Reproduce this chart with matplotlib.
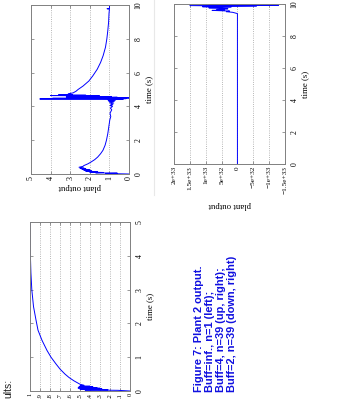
import matplotlib
matplotlib.use("Agg")
import matplotlib.pyplot as plt
from matplotlib.lines import Line2D

plt.rcParams['font.family'] = 'Liberation Serif'

# Buff=4, n=39 (up, right)
a_time = [0.00, 0.03, 0.05, 0.07, 0.09, 0.11, 0.13, 0.15, 0.18, 0.21, 0.24, 0.27,
          0.30, 0.33, 0.36, 0.40, 0.45, 0.50, 0.60, 0.70, 0.85, 1.00, 1.20, 1.40,
          1.70, 2.00, 2.40, 2.80, 3.20, 3.40, 3.60, 3.80, 3.90, 4.00, 4.05, 4.10,
          4.15, 4.20, 4.25, 4.30, 4.33, 4.36, 4.40, 4.42, 4.44, 4.46, 4.48, 4.50,
          4.52, 4.54, 4.56, 4.58, 4.60, 4.62, 4.64, 4.66, 4.68, 4.70, 4.75, 4.80,
          4.90, 5.00, 5.20, 5.50, 5.80, 6.20, 6.60, 7.00, 7.50, 8.00, 8.50, 9.00,
          9.50, 9.75, 9.78, 9.80, 10.00]
a_output = [0.00, 1.20, 0.60, 1.70, 1.30, 2.00, 1.60, 2.20, 1.90, 2.30, 2.00, 2.40,
            2.20, 2.50, 2.30, 2.55, 2.35, 2.30, 2.10, 1.95, 1.75, 1.60, 1.45, 1.33,
            1.22, 1.15, 1.08, 1.03, 0.98, 0.93, 0.97, 0.88, 0.95, 0.84, 0.97, 0.82,
            0.95, 0.78, 1.00, 0.75, 1.05, 0.70, 1.10, 0.30, 4.55, 0.15, 3.90, -0.10,
            1.20, 0.60, 3.20, 0.90, 2.60, 1.50, 4.00, 2.20, 3.60, 2.90, 3.10, 2.85,
            2.70, 2.60, 2.35, 2.05, 1.85, 1.62, 1.45, 1.32, 1.20, 1.13, 1.08, 1.04,
            1.02, 1.00, 1.12, 1.00, 0.99]

# Buff=2, n=39 (down, right)
b_time = [0.0, 9.40, 9.48, 9.52, 9.56, 9.60, 9.63, 9.66, 9.70, 9.73, 9.76, 9.80,
          9.83, 9.86, 9.90, 9.93, 9.96, 9.98, 10.0]
b_output = [0, 0, 0.15e33, 0.35e33, 0.25e33, 0.8e33, 0.4e33, 0.65e33, 0.3e33,
            0.55e33, 0.9e33, 0.2e33, 1.1e33, -0.6e33, 1.5e33, -1.3e33, 0.9e33,
            -1.0e33, 0.6e33]
b_ticks = [2e33, 1.5e33, 1e33, 5e32, 0, -5e32, -1e33, -1.5e33]
b_ticklabels = ["2e+33", "1.5e+33", "1e+33", "5e+32", "0",
                "\u22125e+32", "\u22121e+33", "\u22121.5e+33"]

# Buff=inf., n=1 (left)
c_time = [0.00, 0.02, 0.03, 0.04, 0.05, 0.06, 0.07, 0.08, 0.09, 0.10, 0.11, 0.12,
          0.13, 0.14, 0.15, 0.17, 0.20, 0.25, 0.30, 0.40, 0.50, 0.65, 0.80, 1.00,
          1.20, 1.50, 1.80, 2.10, 2.50, 3.00, 3.50, 4.00, 4.50, 5.00]
c_output = [0.00, 0.12, 0.45, 0.22, 0.50, 0.28, 0.48, 0.30, 0.52, 0.33, 0.49, 0.37,
            0.51, 0.40, 0.50, 0.46, 0.50, 0.53, 0.56, 0.61, 0.65, 0.70, 0.74, 0.79,
            0.83, 0.88, 0.92, 0.94, 0.965, 0.982, 0.991, 0.996, 0.998, 1.00]
c_ticks = [0, 0.1, 0.2, 0.3, 0.4, 0.5, 0.6, 0.7, 0.8, 0.9, 1]
c_ticklabels = ["0", ".1", ".2", ".3", ".4", ".5", ".6", ".7", ".8", ".9", "1"]

caption = ("Figure 7: Plant 2 output.\n"
           "Buff=inf., n=1 (left);\n"
           "Buff=4, n=39 (up, right);\n"
           "Buff=2, n=39 (down, right)")

W, H = 357, 400


def px_axes(fig, x0, y0, x1, y1):
    # pixel box (image coords, y down) -> axes
    return fig.add_axes([x0 / W, 1 - y1 / H, (x1 - x0) / W, (y1 - y0) / H])


def rotated_panel(ax, t, v, tmax, tsteps, vlim, vticks, vlabels=None,
                  xlabel=True, xlabelpad=2, vsize=5.4):
    # page is turned 90 deg: time runs upward, output runs leftward
    ax.plot(v, t, color="#0000ff", lw=0.7)
    ax.set_xlim(vlim)
    ax.set_ylim(0, tmax)
    ax.set_yticks(tsteps)
    ax.set_xticks(vticks)
    if vlabels is not None:
        ax.set_xticklabels(vlabels)
    ax.xaxis.grid(True, linestyle=":", color="#a0a0a0", lw=0.6)
    ax.tick_params(axis="both", direction="in", length=2, width=0.5,
                   color="#707070", labelsize=5.6, top=True, right=True,
                   left=True, labelleft=False, labelright=True)
    ax.tick_params(axis="x", pad=1.5, labelrotation=90, labelsize=vsize)
    ax.tick_params(axis="y", pad=4, labelrotation=90)
    for lab in ax.get_yticklabels():
        lab.set_va("center")
        lab.set_ha("left")
    for s in ax.spines.values():
        s.set_color("#808080")
        s.set_linewidth(0.7)
    ax.yaxis.set_label_position("right")
    ax.set_ylabel("time (s)", rotation=90, fontsize=6.3, labelpad=2)
    if xlabel:
        ax.set_xlabel("plant output", rotation=180, fontsize=6.3, labelpad=xlabelpad)


fig = plt.figure(figsize=(W / 100, H / 100), dpi=100)

ax_a = px_axes(fig, 31, 5, 129, 174)
rotated_panel(ax_a, a_time, a_output, 10, [0, 2, 4, 6, 8, 10], (5, 0),
              [0, 1, 2, 3, 4, 5], xlabelpad=2, vsize=5.8)

ax_b = px_axes(fig, 174, 4, 285, 164)
rotated_panel(ax_b, b_time, b_output, 10, [0, 2, 4, 6, 8, 10], (2e33, -1.5e33),
              b_ticks, b_ticklabels, xlabelpad=5, vsize=5.2)

ax_c = px_axes(fig, 30, 222, 130, 391)
rotated_panel(ax_c, c_time, c_output, 5, [0, 1, 2, 3, 4, 5], (1, 0),
              c_ticks, c_ticklabels, xlabel=False, vsize=4.6)

# faint page edge from the scan
fig.add_artist(Line2D([154 / W, 154 / W], [1, 1 - 195 / H], color="#e8e8e8", lw=0.8))

fig.text(194 / W, 1 - 392 / H, caption, rotation=90, ha="left", va="bottom",
         multialignment="left", color="#1010e0", fontsize=7.9, weight="bold",
         family="Liberation Sans", linespacing=1.12)
fig.text(3 / W, 1 - 398 / H, "ults:", rotation=90, ha="left", va="bottom",
         fontsize=7.5, family="Liberation Sans", color="#202020")

fig.savefig("out.png", dpi=100)
